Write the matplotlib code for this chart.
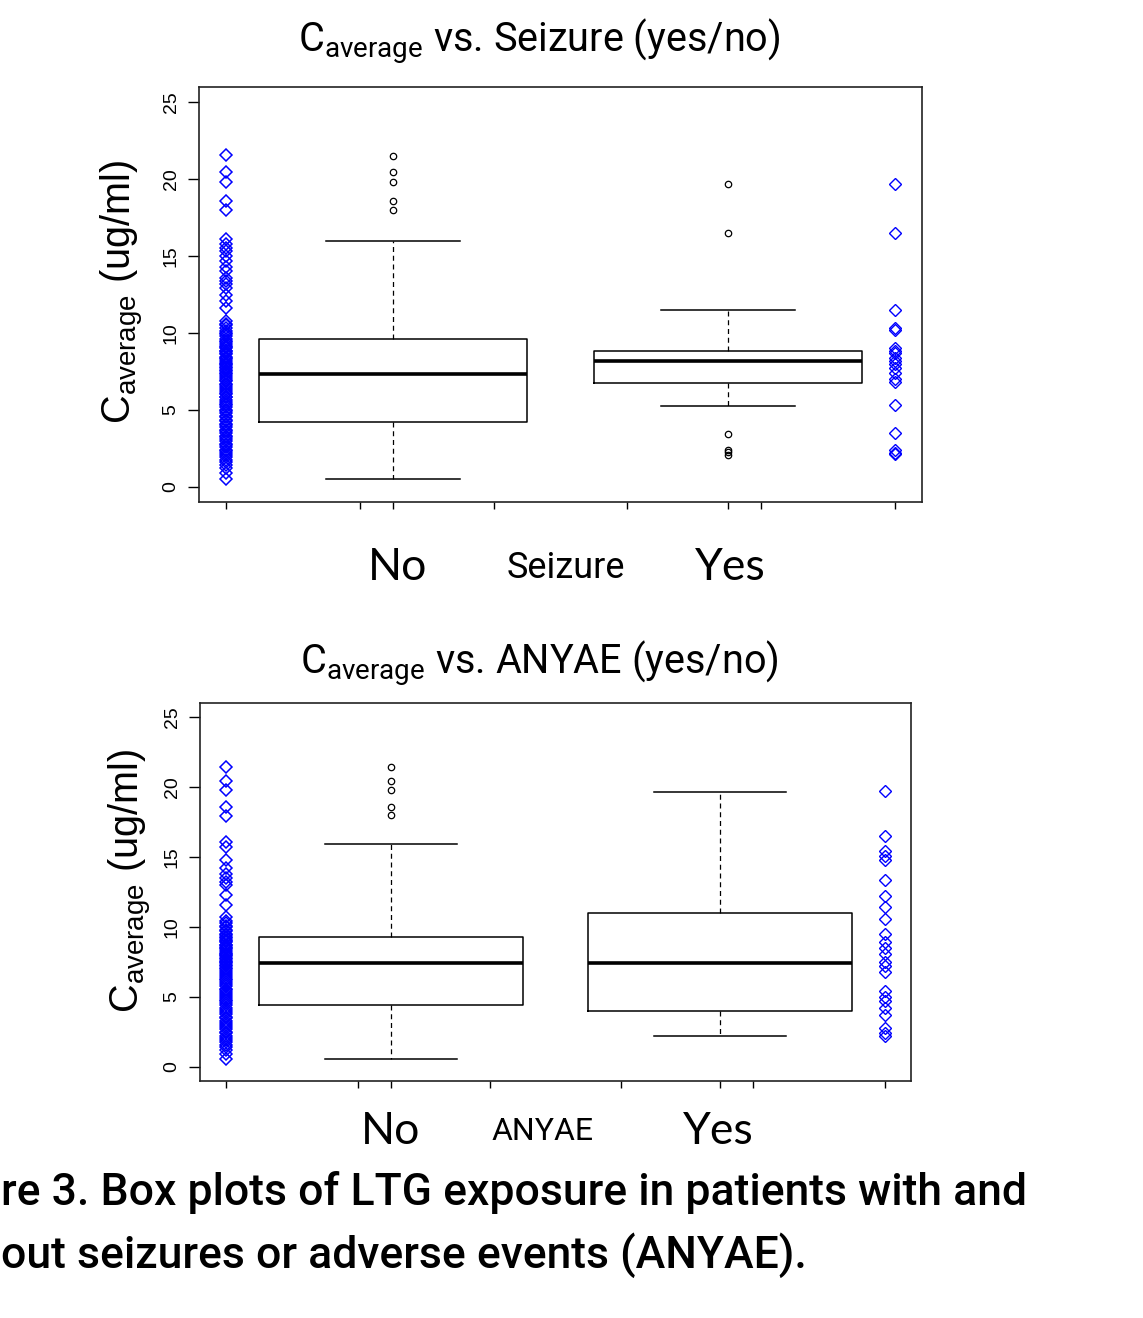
import matplotlib
matplotlib.use("Agg")
import matplotlib.pyplot as plt

# ---------------- data ----------------
seizure_no_points = [21.6, 20.5, 19.8, 18.6, 18.0,
                     16.1, 15.8, 15.5, 15.3, 15.0, 14.7, 14.3, 14.0, 13.6, 13.4, 13.2,
                     12.9, 12.5, 12.1, 11.6, 10.8,
                     10.6, 10.5, 10.3, 10.1, 10.0, 9.9, 9.8, 9.6,
                     9.5, 9.4, 9.3, 9.15, 9.1, 9.0, 8.85, 8.8, 8.7, 8.6, 8.45, 8.4, 8.3,
                     8.2, 8.05, 8.0, 7.9, 7.8, 7.75, 7.6, 7.55, 7.4, 7.3,
                     7.2, 7.1, 6.95, 6.9, 6.7, 6.6, 6.5, 6.35, 6.2, 6.1, 6.0, 5.85, 5.8,
                     5.65, 5.5, 5.4, 5.3, 5.15, 5.0, 4.9, 4.8, 4.6, 4.5, 4.35, 4.25,
                     4.1, 4.0, 3.85, 3.7, 3.6, 3.5, 3.3, 3.2, 3.1, 2.95, 2.8, 2.7, 2.55,
                     2.4, 2.3, 2.2, 2.05, 1.9, 1.75, 1.6, 1.4, 1.2, 0.9, 0.5]
seizure_yes_points = [19.7, 16.5, 11.5, 10.3, 10.2, 9.0, 8.8, 8.7, 8.4, 8.2, 8.0,
                      7.7, 7.4, 7.0, 6.8, 5.3, 3.5, 2.4, 2.2, 2.1]

seizure_q1 = [4.2, 6.75]
seizure_med = [7.3, 8.15]
seizure_q3 = [9.6, 8.8]
seizure_whislo = [0.5, 5.25]
seizure_whishi = [16.0, 11.5]
seizure_fliers = [[21.5, 20.5, 19.8, 18.6, 18.0], [19.7, 16.5, 3.45, 2.4, 2.25, 2.05]]

anyae_no_points = [21.4, 20.4, 19.8, 18.6, 17.9,
                   16.1, 15.7, 14.8, 14.2, 13.8, 13.5, 13.2, 13.0, 12.3, 11.6, 10.7,
                   10.4, 10.3, 10.1, 10.0, 9.8, 9.7, 9.5, 9.4, 9.3,
                   9.2, 9.1, 9.0, 8.9, 8.75, 8.7, 8.6, 8.5, 8.4, 8.3, 8.15, 8.1, 8.0,
                   7.9, 7.8, 7.7, 7.6, 7.5, 7.45,
                   7.3, 7.2, 7.05, 7.0, 6.85, 6.7, 6.6, 6.45, 6.3, 6.2, 6.05, 5.9, 5.8,
                   5.6, 5.5, 5.35, 5.2, 5.1, 4.95, 4.8, 4.7, 4.55, 4.4,
                   4.25, 4.1, 3.95, 3.8, 3.6, 3.5, 3.3, 3.15, 3.0, 2.85, 2.7, 2.5,
                   2.4, 2.25, 2.1, 1.95, 1.8, 1.6, 1.45, 1.2, 0.9, 0.6]
anyae_yes_points = [19.7, 16.5, 15.4, 15.1, 14.8, 13.35, 12.2, 11.45, 10.6, 9.5, 8.95,
                    8.5, 8.1, 7.5, 7.2, 6.8, 5.4, 5.0, 4.7, 4.2, 3.75, 2.8, 2.4, 2.2]

anyae_q1 = [4.4, 4.0]
anyae_med = [7.45, 7.45]
anyae_q3 = [9.3, 11.0]
anyae_whislo = [0.6, 2.2]
anyae_whishi = [15.95, 19.65]
anyae_fliers = [[21.4, 20.4, 19.8, 18.6, 18.0], []]

y_ticks = [0, 5, 10, 15, 20, 25]
group_labels = ["No", "Yes"]

# ---------------- figure ----------------
W, H = 1143, 1318
fig = plt.figure(figsize=(W / 100, H / 100), dpi=100)


def fx(x):
    return x / W


def fy(y):
    return 1 - y / H


ax1 = fig.add_axes([fx(199), fy(502), fx(922) - fx(199), fy(87) - fy(502)])
ax2 = fig.add_axes([fx(200), fy(1081), fx(911) - fx(200), fy(703) - fy(1081)])


def panel(ax, no_pts, yes_pts, q1, med, q3, lo, hi, fliers):
    stats = []
    for i in range(2):
        stats.append(dict(q1=q1[i], med=med[i], q3=q3[i], whislo=lo[i],
                          whishi=hi[i], fliers=fliers[i]))
    ax.bxp(stats, positions=[1.25, 1.75], widths=0.4, showfliers=True,
           manage_ticks=False,
           boxprops=dict(color="black", lw=1.1),
           medianprops=dict(color="black", lw=2.6, solid_capstyle="butt"),
           whiskerprops=dict(color="black", lw=0.9, linestyle=(0, (4, 3))),
           capprops=dict(color="black", lw=1.1),
           flierprops=dict(marker="o", ms=4.6, mfc="none", mec="black", mew=0.9))
    ax.plot([1] * len(no_pts), no_pts, ls="none", marker="D", ms=6.0,
            mfc="none", mec="#0000ff", mew=1.1)
    ax.plot([2] * len(yes_pts), yes_pts, ls="none", marker="D", ms=6.0,
            mfc="none", mec="#0000ff", mew=1.0)
    ax.set_xlim(0.96, 2.04)
    ax.set_ylim(-1, 26)
    ax.set_xticks([1.0, 1.2, 1.25, 1.4, 1.6, 1.75, 1.8, 2.0])
    ax.set_xticklabels([])
    ax.set_yticks(y_ticks)
    ax.set_yticklabels([str(t) for t in y_ticks], rotation=90, va="center",
                       fontsize=14, family="Liberation Sans")
    ax.tick_params(axis="y", length=8, width=1, pad=6)
    ax.tick_params(axis="x", length=5, width=1)
    for s in ax.spines.values():
        s.set_linewidth(1.2)
        s.set_color("#222222")


panel(ax1, seizure_no_points, seizure_yes_points, seizure_q1, seizure_med,
      seizure_q3, seizure_whislo, seizure_whishi, seizure_fliers)
panel(ax2, anyae_no_points, anyae_yes_points, anyae_q1, anyae_med,
      anyae_q3, anyae_whislo, anyae_whishi, anyae_fliers)

title_font = "Roboto"
fig.text(fx(539), fy(42), r"C$_{\mathregular{average}}$ vs. Seizure (yes/no)",
         ha="center", va="center", fontsize=28.5, family=title_font)
fig.text(fx(539), fy(664), r"C$_{\mathregular{average}}$ vs. ANYAE (yes/no)",
         ha="center", va="center", fontsize=28.5, family=title_font)

fig.text(fx(122), fy(292), r"C$_{\mathregular{average}}$ (ug/ml)", rotation=90,
         ha="center", va="center", fontsize=28.5, family="Liberation Sans")
fig.text(fx(130), fy(881), r"C$_{\mathregular{average}}$ (ug/ml)", rotation=90,
         ha="center", va="center", fontsize=28.5, family="Liberation Sans")

fig.text(fx(398), fy(568), group_labels[0], ha="center", va="center",
         fontsize=32, family="Lato")
fig.text(fx(566), fy(568), "Seizure", ha="center", va="center",
         fontsize=26, family=title_font)
fig.text(fx(730), fy(568), group_labels[1], ha="center", va="center",
         fontsize=32, family="Lato")

fig.text(fx(391), fy(1131), group_labels[0], ha="center", va="center",
         fontsize=32, family="Lato")
fig.text(fx(542), fy(1131), "ANYAE", ha="center", va="center",
         fontsize=23, family=title_font)
fig.text(fx(718), fy(1131), group_labels[1], ha="center", va="center",
         fontsize=32, family="Lato")

fig.text(fx(1), fy(1193), "re 3. Box plots of LTG exposure in patients with and",
         ha="left", va="center", fontsize=32, family=title_font, weight="medium")
fig.text(fx(1), fy(1255), "out seizures or adverse events (ANYAE).",
         ha="left", va="center", fontsize=32, family=title_font, weight="medium")

fig.savefig("out.png", dpi=100, facecolor="white")
